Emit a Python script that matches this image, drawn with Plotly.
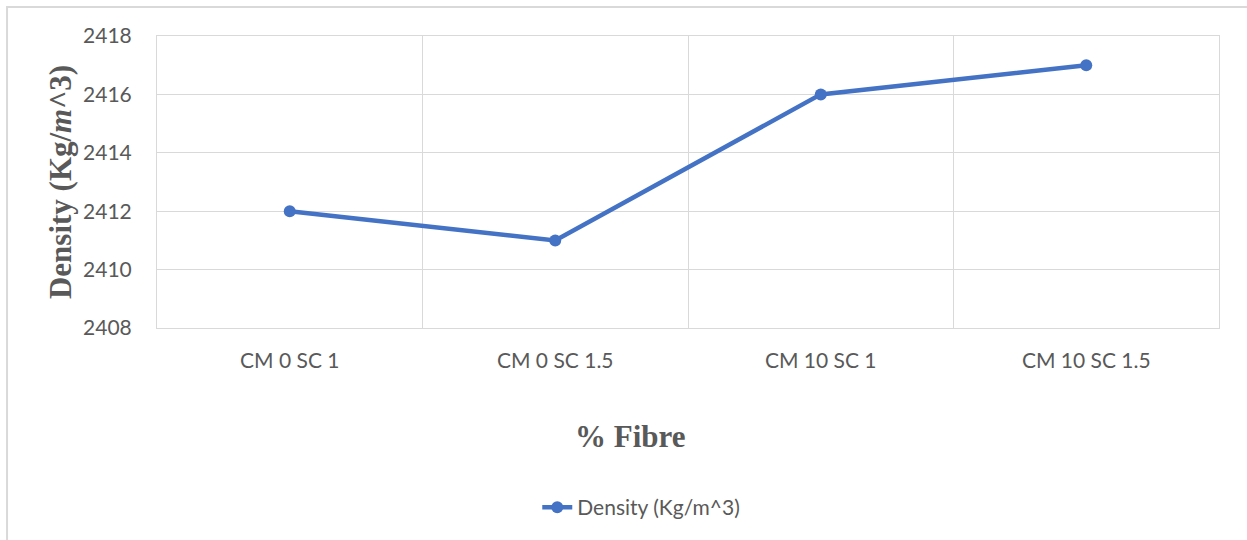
import plotly.graph_objects as go

categories = ["CM 0 SC 1", "CM 0 SC 1.5", "CM 10 SC 1", "CM 10 SC 1.5"]
density = [2412, 2411, 2416, 2417]
y_ticks = [2408, 2410, 2412, 2414, 2416, 2418]

LINE_BLUE = "#4472C4"
GRID = "#D9D9D9"
TEXT = "#595959"

fig = go.Figure()
fig.add_trace(go.Scatter(
    x=categories, y=density, mode="lines+markers",
    name="Density (Kg/m^3)",
    line=dict(color=LINE_BLUE, width=4.5),
    marker=dict(color=LINE_BLUE, size=12),
))

fig.update_layout(
    width=1247, height=540,
    margin=dict(l=157, r=28, t=36, b=212),
    paper_bgcolor="white", plot_bgcolor="white",
    font=dict(family="Lato", size=21, color=TEXT),
    showlegend=True,
    legend=dict(orientation="h", x=0.456, xanchor="center", y=-0.615, yanchor="middle",
                font=dict(size=21, color=TEXT)),
    xaxis=dict(
        type="category", range=[-0.5, 3.5], tickson="boundaries",
        showgrid=True, gridcolor=GRID, gridwidth=1,
        showline=True, linecolor=GRID, mirror=True,
        ticks="", ticklabelstandoff=14,
        tickfont=dict(size=21, color=TEXT),
    ),
    yaxis=dict(
        range=[2408, 2418], tickvals=y_ticks,
        showgrid=True, gridcolor=GRID, gridwidth=1,
        showline=True, linecolor=GRID, mirror=True, zeroline=False,
        ticks="outside", ticklen=20, tickcolor="rgba(0,0,0,0)",
        tickfont=dict(size=21, color=TEXT),
        title=dict(text="<b>Density (Kg/<i>m</i>^3)</b>", standoff=2,
                   font=dict(family="Liberation Serif", size=31, color=TEXT)),
    ),
    annotations=[dict(text="<b>% Fibre</b>", xref="paper", yref="paper",
                      x=0.4463, y=-0.373, xanchor="center", yanchor="middle",
                      showarrow=False,
                      font=dict(family="Liberation Serif", size=31, color=TEXT))],
    shapes=[dict(type="rect", xref="paper", yref="paper",
                 x0=-0.1412, x1=1.05, y0=-0.8, y1=1.0993,
                 line=dict(color=GRID, width=2), fillcolor="rgba(0,0,0,0)",
                 layer="below")],
)

fig.write_html("out.html")
